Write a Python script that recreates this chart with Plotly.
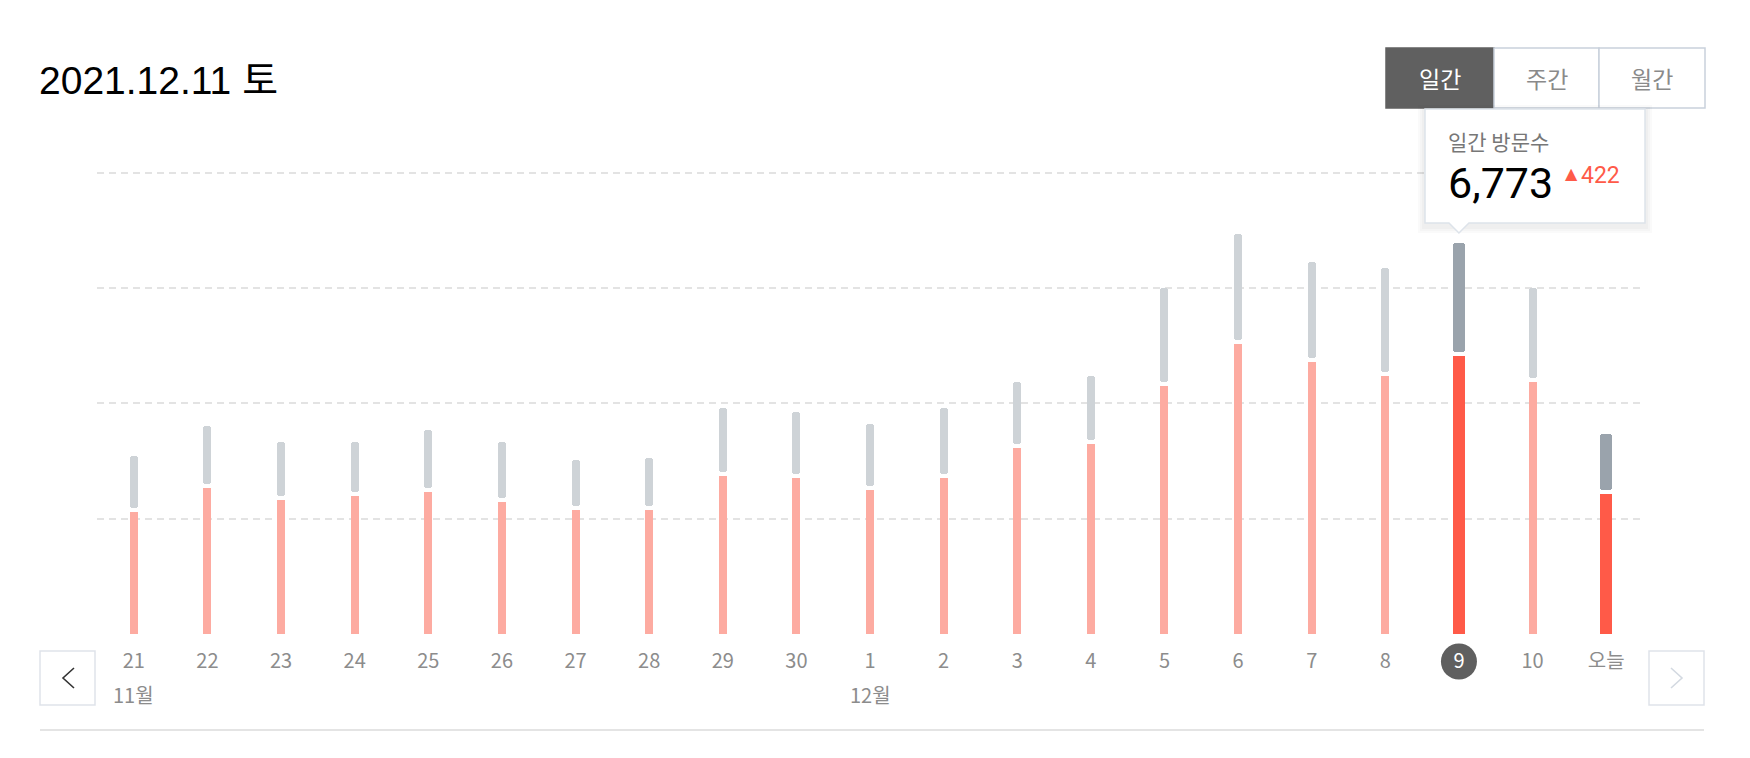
import plotly.graph_objects as go

# ---------------- data ----------------
labels = ["21", "22", "23", "24", "25", "26", "27", "28", "29", "30",
          "1", "2", "3", "4", "5", "6", "7", "8", "9", "10", "오늘"]
total_visits = [3087, 3607, 3330, 3330, 3538, 3330, 3018, 3052, 3920, 3850,
                3642, 3920, 4370, 4474, 6001, 6937, 6452, 6351, 6773, 6001, 3469]
pink_visits = [2116, 2532, 2324, 2393, 2463, 2289, 2151, 2151, 2740, 2706,
               2497, 2706, 3226, 3295, 4301, 5029, 4717, 4474, 4821, 4370, 2428]
month_names = ["11월", "12월"]
month_starts = ["21", "1"]
grid_values = [2000, 4000, 6000, 8000]
title_text = "2021.12.11 토"
periods = ["일간", "주간", "월간"]
active_period = "일간"
tooltip_label = "일간 방문수"
selected_label = "9"
today_label = "오늘"

# ---------------- layout constants ----------------
FW, FH = 1750, 758
L, R, T, B = 97, 107, 171, 124
PW, PH = FW - L - R, FH - T - B
YMAX = 8030
FONT = "Noto Sans CJK KR, Noto Sans, sans-serif"

def px(x):
    return (x - L) / PW

def py(y):
    return (FH - B - y) / PH

n = len(labels)
xs = list(range(n))
sel_i = labels.index(selected_label)
today_i = labels.index(today_label)
hi = {sel_i, today_i}

unit_px = PW / n
gap = 4 * YMAX / PH  # 4px gap between segments
widths = [(12 if i in hi else 8) / unit_px for i in xs]
pink_colors = ["#ff5a48" if i in hi else "#fdaba1" for i in xs]
gray_colors = ["#9aa3ac" if i in hi else "#ced3d7" for i in xs]

fig = go.Figure()
fig.add_trace(go.Bar(
    x=xs, y=pink_visits, width=widths,
    marker=dict(color=pink_colors, line=dict(width=0), cornerradius=3),
    hoverinfo="skip", showlegend=False,
))
gray_base = [p + gap for p in pink_visits]
gray_len = [t - p - gap for t, p in zip(total_visits, pink_visits)]
fig.add_trace(go.Bar(
    x=xs, y=gray_len, base=gray_base, width=widths,
    marker=dict(color=gray_colors, line=dict(width=0), cornerradius=3),
    hoverinfo="skip", showlegend=False,
))

ticktext = [f"<span style='color:#ffffff'>{l}</span>" if i == sel_i else l
            for i, l in enumerate(labels)]

fig.update_layout(
    width=FW, height=FH,
    margin=dict(l=L, r=R, t=T, b=B, pad=0),
    paper_bgcolor="white", plot_bgcolor="white",
    barmode="overlay", bargap=0,
    font=dict(family=FONT),
    xaxis=dict(
        range=[-0.5, n - 0.5], tickvals=xs, ticktext=ticktext,
        showgrid=False, zeroline=False, showline=False, ticks="",
        tickfont=dict(size=20, color="#8c8c8c", family=FONT),
        ticklabelstandoff=13, fixedrange=True,
    ),
    yaxis=dict(
        range=[0, YMAX], tickvals=grid_values, showticklabels=False,
        showgrid=True, gridcolor="#e3e3e3", gridwidth=1.5, griddash="7px,5px",
        zeroline=False, showline=False, ticks="", fixedrange=True,
    ),
)

shapes = []
annotations = []

# selected day circle behind tick label
shapes.append(dict(
    type="circle", xref="x", yref="paper", xsizemode="pixel", ysizemode="pixel",
    xanchor=sel_i, yanchor=py(661.5), x0=-18, x1=18, y0=-18, y1=18,
    fillcolor="#5f5f5f", line=dict(width=0), layer="below",
))

# month labels
for name, start in zip(month_names, month_starts):
    annotations.append(dict(
        x=labels.index(start), y=py(694), xref="x", yref="paper",
        text=name, showarrow=False, xanchor="center", yanchor="middle",
        font=dict(size=20, color="#8c8c8c", family=FONT),
    ))

# title
annotations.append(dict(
    x=px(37), y=py(80), xref="paper", yref="paper", text=title_text,
    showarrow=False, xanchor="left", yanchor="middle",
    font=dict(size=39, color="#000000", family="Liberation Sans, Noto Sans CJK KR, sans-serif"),
))

# period buttons
btn_x = [1386, 1494, 1599, 1705]
for i, p in enumerate(periods):
    active = p == active_period
    shapes.append(dict(
        type="rect", xref="paper", yref="paper",
        x0=px(btn_x[i]), x1=px(btn_x[i + 1]), y0=py(108), y1=py(48),
        fillcolor="#606060" if active else "#ffffff",
        line=dict(color="#606060" if active else "#c9d1dc", width=1.5),
        layer="above",
    ))
    annotations.append(dict(
        x=px((btn_x[i] + btn_x[i + 1]) / 2), y=py(78), xref="paper", yref="paper",
        text=p, showarrow=False, xanchor="center", yanchor="middle",
        font=dict(size=23, color="#ffffff" if active else "#8a8a8a", family=FONT),
    ))

# tooltip
sel_total = total_visits[sel_i]
delta = total_visits[sel_i] - total_visits[sel_i - 1]
tx0, tx1, ty0, ty1 = 1425, 1645, 109, 223
cx = L + (sel_i + 0.5) * unit_px
for k, a in enumerate([0.02, 0.02, 0.025]):
    e = 7 - 2 * k
    shapes.append(dict(
        type="rect", xref="paper", yref="paper",
        x0=px(tx0 - e), x1=px(tx1 + e), y0=py(ty1 + e + 3), y1=py(ty0 - e + 3),
        fillcolor=f"rgba(0,0,0,{a})", line=dict(width=0), layer="above",
    ))
path = (f"M {px(tx0)},{py(ty0)} L {px(tx1)},{py(ty0)} L {px(tx1)},{py(ty1)} "
        f"L {px(cx + 10)},{py(ty1)} L {px(cx)},{py(ty1 + 10)} L {px(cx - 10)},{py(ty1)} "
        f"L {px(tx0)},{py(ty1)} Z")
shapes.append(dict(type="path", xref="paper", yref="paper", path=path,
                   fillcolor="#ffffff", line=dict(color="#dde3ea", width=1.5), layer="above"))
annotations.append(dict(
    x=px(1446), y=py(141), xref="paper", yref="paper", text=tooltip_label,
    showarrow=False, xanchor="left", yanchor="middle",
    font=dict(size=21, color="#777777", family=FONT),
))
annotations.append(dict(
    x=px(1446), y=py(183), xref="paper", yref="paper", text=f"{sel_total:,}",
    showarrow=False, xanchor="left", yanchor="middle",
    font=dict(size=43, color="#000000", family="Roboto, Noto Sans, sans-serif"),
))
annotations.append(dict(
    x=px(1563), y=py(173), xref="paper", yref="paper", text="▲",
    showarrow=False, xanchor="left", yanchor="middle",
    font=dict(size=16, color="#ff5a48", family="DejaVu Sans, sans-serif"),
))
annotations.append(dict(
    x=px(1579), y=py(176), xref="paper", yref="paper", text=f"{delta:,}",
    showarrow=False, xanchor="left", yanchor="middle",
    font=dict(size=23, color="#ff5a48", family="Roboto, Noto Sans, sans-serif"),
))

# nav boxes
for (bx0, bx1, chev, col) in [(40, 95, [(74, 668), (63, 678), (74, 688)], "#333333"),
                               (1649, 1704, [(1671, 668), (1682, 678), (1671, 688)], "#d3d9e1")]:
    shapes.append(dict(
        type="rect", xref="paper", yref="paper",
        x0=px(bx0), x1=px(bx1), y0=py(705), y1=py(651),
        fillcolor="#ffffff", line=dict(color="#dfe3ea", width=1.5), layer="above",
    ))
    cp = " L ".join(f"{px(a)},{py(b)}" for a, b in chev)
    shapes.append(dict(type="path", xref="paper", yref="paper", path=f"M {cp}",
                       line=dict(color=col, width=1.6), layer="above"))

# bottom rule
shapes.append(dict(type="line", xref="paper", yref="paper",
                   x0=px(40), x1=px(1704), y0=py(730), y1=py(730),
                   line=dict(color="#e4e4e4", width=2), layer="above"))

fig.update_layout(shapes=shapes, annotations=annotations)
fig.write_html("out.html", config={"displayModeBar": False},
               post_script="document.body.style.margin='0px';")
